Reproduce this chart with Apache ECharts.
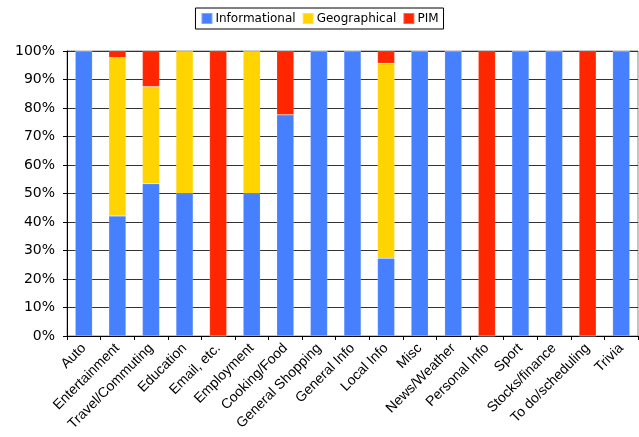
<!DOCTYPE html>
<html>
<head>
<meta charset="utf-8">
<script src="https://cdn.jsdelivr.net/npm/echarts@6/dist/echarts.min.js"></script>
<style>
  html, body { margin: 0; padding: 0; background: #fff; }
  #chart { width: 639px; height: 437px; }
</style>
</head>
<body>
<div id="chart"></div>
<script>
const categories = ['Auto', 'Entertainment', 'Travel/Commuting', 'Education', 'Email, etc.',
  'Employment', 'Cooking/Food', 'General Shopping', 'General Info', 'Local Info', 'Misc',
  'News/Weather', 'Personal Info', 'Sport', 'Stocks/finance', 'To do/scheduling', 'Trivia']
const informational = [100, 42.1, 53.4, 50, 0, 50, 77.6, 100, 100, 27.3, 100, 100, 0, 100, 100, 0, 100]
const geographical = [0, 55.6, 34.1, 50, 0, 50, 0, 0, 0, 68.4, 0, 0, 0, 0, 0, 0, 0]
const pim = [0, 2.3, 12.5, 0, 100, 0, 22.4, 0, 0, 4.3, 0, 0, 100, 0, 0, 100, 0]

const blue = '#4680ff'
const yellow = '#ffd400'
const red = '#ff2600'

const chart = echarts.init(document.getElementById('chart'))

function barSeries(name, data, color) {
  return {
    name,
    type: 'bar',
    stack: 'all',
    data,
    barWidth: '51%',
    itemStyle: { color, borderColor: 'rgba(255,255,255,0.3)', borderWidth: 0.5 },
    emphasis: { disabled: true },
  }
}

chart.setOption({
  animation: false,
  backgroundColor: '#fff',
  legend: {
    top: 8,
    left: 'center',
    itemWidth: 11,
    itemHeight: 11,
    itemGap: 6,
    padding: [4, 5],
    borderColor: '#000',
    borderWidth: 1,
    icon: 'rect',
    textStyle: { fontFamily: 'DejaVu Sans', fontSize: 12, color: '#000', padding: [0, 0, 0, -2] },
  },
  grid: {
    left: 67,
    right: 1,
    top: 51,
    bottom: 101,
    show: true,
    borderColor: '#888',
    borderWidth: 1,
  },
  xAxis: {
    type: 'category',
    data: categories,
    axisLine: { lineStyle: { color: '#000', width: 1 } },
    axisTick: { show: true, length: 4, lineStyle: { color: '#000' } },
    axisLabel: {
      interval: 0,
      rotate: 45,
      margin: 10,
      fontFamily: 'Liberation Sans',
      fontSize: 14,
      color: '#000',
    },
  },
  yAxis: {
    type: 'value',
    min: 0,
    max: 100,
    interval: 10,
    axisLine: { show: true, lineStyle: { color: '#000' } },
    axisTick: { show: true, length: 4, lineStyle: { color: '#000' } },
    splitLine: { lineStyle: { color: '#333', width: 1 } },
    axisLabel: {
      formatter: '{value}%',
      fontFamily: 'DejaVu Sans',
      fontSize: 14,
      color: '#000',
      margin: 12,
    },
  },
  series: [
    barSeries('Informational', informational, blue),
    barSeries('Geographical', geographical, yellow),
    barSeries('PIM', pim, red),
  ],
})
</script>
</body>
</html>
